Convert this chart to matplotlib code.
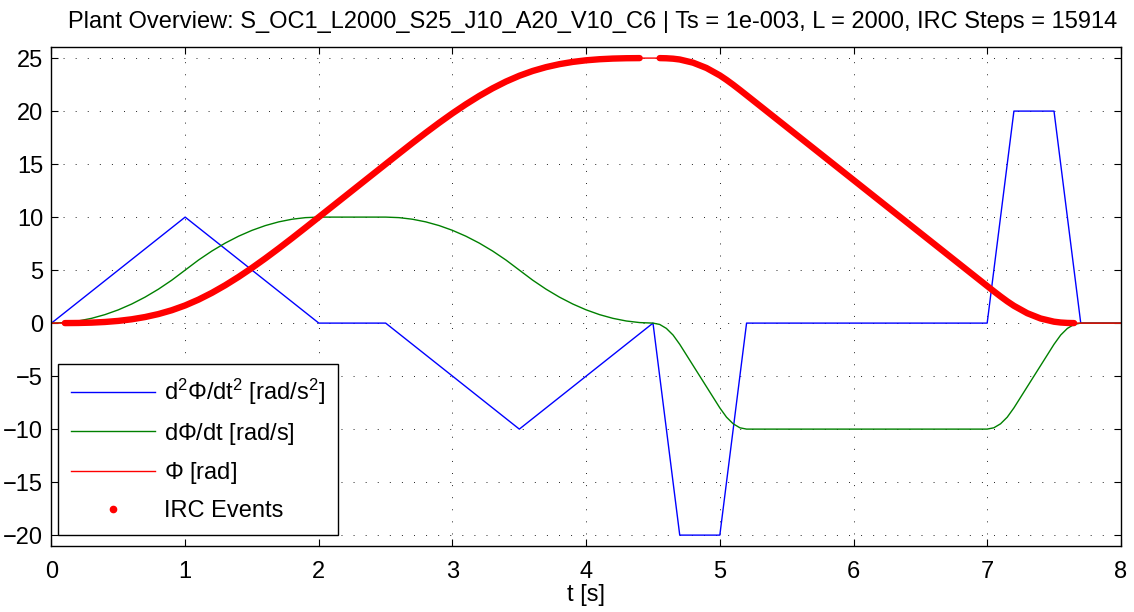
import numpy as np
import matplotlib
matplotlib.use("Agg")
import matplotlib.pyplot as plt

plt.rcParams["font.family"] = ["Liberation Sans", "DejaVu Sans"]
plt.rcParams["mathtext.fontset"] = "custom"
plt.rcParams["mathtext.rm"] = "Liberation Sans"
plt.rcParams["mathtext.it"] = "Liberation Sans"
plt.rcParams["lines.scale_dashes"] = False

TITLE = ("Plant Overview: S_OC1_L2000_S25_J10_A20_V10_C6 | Ts = 1e-003, "
         "L = 2000, IRC Steps = 15914")

# acceleration profile (breakpoints)
acc_t = [0, 1, 2, 2.5, 3.5, 4.5, 4.7, 5.0, 5.2, 7.0, 7.2, 7.5, 7.7, 8]
acc = [0, 10, 0, 0, -10, 0, -20, -20, 0, 0, 20, 20, 0, 0]

# velocity and angle
t = [0.0, 0.1, 0.2, 0.3, 0.4, 0.5, 0.6, 0.7, 0.8, 0.9, 1.0,
     1.1, 1.2, 1.3, 1.4, 1.5, 1.6, 1.7, 1.8, 1.9, 2.0,
     2.1, 2.2, 2.3, 2.4, 2.5,
     2.6, 2.7, 2.8, 2.9, 3.0, 3.1, 3.2, 3.3, 3.4, 3.5,
     3.6, 3.7, 3.8, 3.9, 4.0, 4.1, 4.2, 4.3, 4.4, 4.5,
     4.55, 4.6, 4.65, 4.7, 4.8, 4.9, 5.0, 5.05, 5.1, 5.15, 5.2,
     5.3, 5.4, 5.5, 5.6, 5.7, 5.8, 5.9, 6.0, 6.1,
     6.2, 6.3, 6.4, 6.5, 6.6, 6.7, 6.8, 6.9, 7.0,
     7.05, 7.1, 7.15, 7.2, 7.3, 7.4, 7.5, 7.55, 7.6, 7.65, 7.7,
     7.8, 7.9, 8.0]
vel = [0, 0.05, 0.2, 0.45, 0.8, 1.25, 1.8, 2.45, 3.2, 4.05, 5.0,
       5.95, 6.8, 7.55, 8.2, 8.75, 9.2, 9.55, 9.8, 9.95, 10,
       10, 10, 10, 10, 10,
       9.95, 9.8, 9.55, 9.2, 8.75, 8.2, 7.55, 6.8, 5.95, 5.0,
       4.05, 3.2, 2.45, 1.8, 1.25, 0.8, 0.45, 0.2, 0.05, 0,
       -0.125, -0.5, -1.125, -2, -4, -6, -8, -8.875, -9.5, -9.875, -10,
       -10, -10, -10, -10, -10, -10, -10, -10, -10,
       -10, -10, -10, -10, -10, -10, -10, -10, -10,
       -9.875, -9.5, -8.875, -8, -6, -4, -2, -1.125, -0.5, -0.125, 0,
       0, 0, 0]
phi = [0, 0.002, 0.013, 0.045, 0.107, 0.208, 0.36, 0.572, 0.853, 1.215, 1.667,
       2.215, 2.853, 3.572, 4.36, 5.208, 6.107, 7.045, 8.013, 9.002, 10.0,
       11, 12, 13, 14, 15,
       15.998, 16.987, 17.955, 18.893, 19.792, 20.64, 21.428, 22.147, 22.785, 23.333,
       23.785, 24.147, 24.428, 24.64, 24.792, 24.893, 24.955, 24.987, 24.998, 25.0,
       24.998, 24.983, 24.944, 24.867, 24.567, 24.067, 23.367, 22.944, 22.483, 21.998, 21.5,
       20.5, 19.5, 18.5, 17.5, 16.5, 15.5, 14.5, 13.5, 12.5,
       11.5, 10.5, 9.5, 8.5, 7.5, 6.5, 5.5, 4.5, 3.5,
       3.002, 2.517, 2.056, 1.633, 0.933, 0.433, 0.133, 0.056, 0.017, 0.002, 0,
       0, 0, 0]

# time spans where IRC events are dense
irc_spans = [(0.1, 4.4), (4.55, 7.65)]

t = np.array(t); vel = np.array(vel); phi = np.array(phi)

fig = plt.figure(figsize=(11.34, 6.12), dpi=100)
ax = fig.add_axes([0.0454, 0.1083, 0.943, 0.8141])

ax.plot(acc_t, acc, color=(0, 0, 1), lw=1.0, label=r"d$^2\Phi$/dt$^2$ [rad/s$^2$]")
ax.plot(t, vel, color=(0, 0.5, 0), lw=1.0, label=r"d$\Phi$/dt [rad/s]")
ax.plot(t, phi, color=(1, 0, 0), lw=1.0, label=r"$\Phi$ [rad]")
for a, b in irc_spans:
    m = (t >= a - 1e-9) & (t <= b + 1e-9)
    ax.plot(t[m], phi[m], color=(1, 0, 0), lw=4.6, solid_capstyle="round", zorder=3)
ax.plot([], [], ".", color=(1, 0, 0), ms=9, label="IRC Events")

ax.set_xlim(0, 8)
ax.set_ylim(-21, 26)
ax.set_xticks(range(0, 9))
ax.set_yticks(range(-20, 26, 5))
ax.tick_params(direction="in", top=True, right=True, length=5, width=0.8, labelsize=17)
ax.tick_params(axis="x", pad=11)
ax.tick_params(axis="y", pad=6)
for s in ax.spines.values():
    s.set_linewidth(1.0)
ax.grid(True, color="black", lw=0.6, linestyle=(0, (0.7, 8)))

ax.set_title(TITLE, fontsize=17, pad=14, x=0.506)
ax.set_xlabel("t [s]", fontsize=17, labelpad=1)

leg = ax.legend(loc="lower left", bbox_to_anchor=(0.006, 0.0215), borderaxespad=0,
                fontsize=17, fancybox=False, edgecolor="black", framealpha=1,
                handlelength=3.55, handletextpad=0.4, labelspacing=0.58, borderpad=0.55)
leg.get_frame().set_linewidth(1.0)

fig.savefig("out.png", dpi=100)
